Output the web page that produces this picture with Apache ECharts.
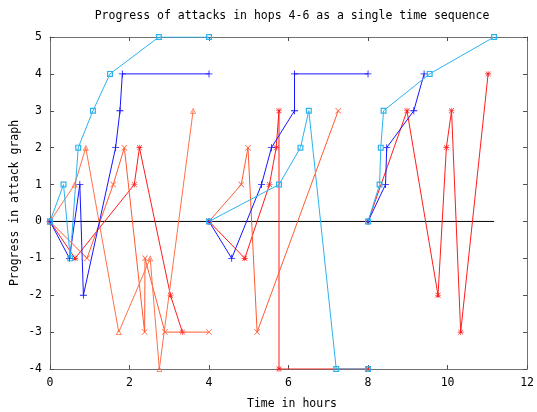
<!DOCTYPE html>
<html><head><meta charset="utf-8">
<script src="https://cdn.jsdelivr.net/npm/echarts@6/dist/echarts.min.js"></script>
<style>html,body{margin:0;padding:0;background:#fff}#c{width:537px;height:412px}</style>
</head><body><div id="c"></div>
<script>
// Data (hours, progress); each window is a separate segment
const blueW1X = [0, 0.49, 0.75, 0.84, 1.65, 1.76, 1.82, 4.0];
const blueW1Y = [0, -1, 1, -2, 2, 3, 4, 4];
const blueW2X = [4.0, 4.57, 5.32, 5.57, 6.15, 6.15, 8.0];
const blueW2Y = [0, -1, 1, 2, 3, 4, 4];
const blueW3X = [8.0, 8.44, 8.47, 9.15, 9.41];
const blueW3Y = [0, 1, 2, 3, 4];

const cyanW1X = [0, 0.34, 0.51, 0.71, 1.08, 1.51, 2.74, 4.0];
const cyanW1Y = [0, 1, -1, 2, 3, 4, 5, 5];
const cyanW2X = [4.0, 5.76, 6.30, 6.51, 7.20, 8.0];
const cyanW2Y = [0, 1, 2, 3, -4, -4];
const cyanW3X = [8.0, 8.29, 8.32, 8.39, 9.55, 11.17];
const cyanW3Y = [0, 1, 2, 3, 4, 5];

const redW1X = [0, 0.63, 2.12, 2.25, 3.03, 3.33];
const redW1Y = [0, -1, 1, 2, -2, -3];
const redW2X = [4.0, 4.90, 5.52, 5.69, 5.76, 5.76, 8.0];
const redW2Y = [0, -1, 1, 2, 3, -4, -4];
const redW3X = [8.0, 8.98, 9.76, 9.97, 10.10, 10.33, 11.02];
const redW3Y = [0, 3, -2, 2, 3, -3, 4];

const orangeW1X = [0, 0.93, 1.59, 1.87, 2.38, 2.39, 2.89, 4.0];
const orangeW1Y = [0, -1, 1, 2, -3, -1, -3, -3];
const orangeW2X = [4.0, 4.81, 4.98, 5.21, 7.25];
const orangeW2Y = [0, 1, 2, -3, 3];

const salmonW1X = [0, 0.62, 0.90, 1.73, 2.52, 2.75, 3.60];
const salmonW1Y = [0, 1, 2, -3, -1, -4, 3];

const zeroX = [0, 11.17];
const zeroY = [0, 0];

const xTicks = [0, 2, 4, 6, 8, 10, 12];
const yTicks = [-4, -3, -2, -1, 0, 1, 2, 3, 4, 5];

const FONT = 'DejaVu Sans Mono';
const zip = (xs, ys) => xs.map((x, i) => [x, ys[i]]);

const PLUS = 'path://M4.4,0h1.2v4.4h4.4v1.2h-4.4v4.4h-1.2v-4.4h-4.4v-1.2h4.4z';
const CROSS = 'path://M0,0.8L0.8,0L5,4.2L9.2,0L10,0.8L5.8,5L10,9.2L9.2,10L5,5.8L0.8,10L0,9.2L4.2,5Z';
const STAR = 'path://M4.5,0h1v4.5h4.5v1h-4.5v4.5h-1v-4.5h-4.5v-1h4.5z M1.2,0.5L5,4.3L8.8,0.5L9.5,1.2L5.7,5L9.5,8.8L8.8,9.5L5,5.7L1.2,9.5L0.5,8.8L4.3,5L0.5,1.2Z';
const TRI = 'path://M5,0L10,9H0Z M5,2.6L1.8,7.8H8.2Z';
const BOX = 'path://M0,0H10V10H0Z M2,2V8H8V2Z';

function seg(xs, ys, color, symbol, size, z) {
  return {
    type: 'line', data: zip(xs, ys), xAxisIndex: 0, yAxisIndex: 0,
    symbol: symbol, symbolSize: size, showSymbol: true, animation: false,
    lineStyle: { color: color, width: 1 },
    itemStyle: { color: color },
    z: z
  };
}

const BLUE = '#1616ff', CYAN = '#2cb2ee', RED = '#ff1c1c', ORANGE = '#ff5a32', SALMON = '#ff7048';

const series = [
  { type: 'line', data: zip(zeroX, zeroY), symbol: 'none', animation: false, lineStyle: { color: '#000', width: 1 }, z: 1 },
  seg(redW1X, redW1Y, RED, STAR, 6, 2),
  seg(redW2X, redW2Y, RED, STAR, 6, 2),
  seg(redW3X, redW3Y, RED, STAR, 6, 2),
  seg(orangeW1X, orangeW1Y, ORANGE, CROSS, 6, 3),
  seg(orangeW2X, orangeW2Y, ORANGE, CROSS, 6, 3),
  seg(salmonW1X, salmonW1Y, SALMON, TRI, 6, 3),
  seg(blueW1X, blueW1Y, BLUE, PLUS, 7, 4),
  seg(blueW2X, blueW2Y, BLUE, PLUS, 7, 4),
  seg(blueW3X, blueW3Y, BLUE, PLUS, 7, 4),
  seg(cyanW1X, cyanW1Y, CYAN, BOX, 6, 5),
  seg(cyanW2X, cyanW2Y, CYAN, BOX, 6, 5),
  seg(cyanW3X, cyanW3Y, CYAN, BOX, 6, 5)
];

const axisLine = { show: true, onZero: false, lineStyle: { color: '#707070', width: 1 } };
const tick = { show: true, inside: true, length: 4, lineStyle: { color: '#505050' } };
const xMin = xTicks[0], xMax = xTicks[xTicks.length - 1], xInt = xTicks[1] - xTicks[0];
const yMin = yTicks[0], yMax = yTicks[yTicks.length - 1], yInt = yTicks[1] - yTicks[0];

const chart = echarts.init(document.getElementById('c'), null, { renderer: 'canvas' });
chart.setOption({
  animation: false,
  backgroundColor: '#fff',
  grid: { left: 50, right: 4, top: 37, bottom: 43, containLabel: false },
  xAxis: [
    { type: 'value', min: xMin, max: xMax, interval: xInt, position: 'bottom',
      axisLine: axisLine, axisTick: tick, splitLine: { show: false },
      axisLabel: { color: '#000', fontFamily: FONT, fontSize: 11.5, margin: 8 } },
    { type: 'value', min: xMin, max: xMax, interval: xInt, position: 'top',
      axisLine: axisLine, axisTick: tick, splitLine: { show: false }, axisLabel: { show: false } }
  ],
  yAxis: [
    { type: 'value', min: yMin, max: yMax, interval: yInt, position: 'left',
      axisLine: axisLine, axisTick: tick, splitLine: { show: false },
      axisLabel: { color: '#000', fontFamily: FONT, fontSize: 11.5, margin: 8 } },
    { type: 'value', min: yMin, max: yMax, interval: yInt, position: 'right',
      axisLine: axisLine, axisTick: tick, splitLine: { show: false }, axisLabel: { show: false } }
  ],
  graphic: [
    { type: 'text', x: 292, y: 16, style: { text: 'Progress of attacks in hops 4-6 as a single time sequence', font: '11.5px ' + FONT, fill: '#000', textAlign: 'center', textVerticalAlign: 'middle' } },
    { type: 'text', x: 292, y: 404, style: { text: 'Time in hours', font: '11.5px ' + FONT, fill: '#000', textAlign: 'center', textVerticalAlign: 'middle' } },
    { type: 'text', x: 15, y: 203, rotation: Math.PI / 2, style: { text: 'Progress in attack graph', font: '11.5px ' + FONT, fill: '#000', textAlign: 'center', textVerticalAlign: 'middle' } }
  ],
  series: series
});
</script></body></html>
